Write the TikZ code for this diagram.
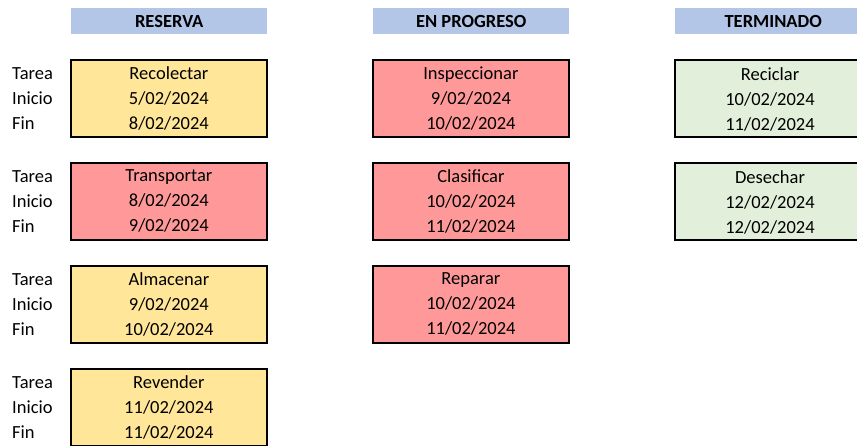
\documentclass[tikz,border=0pt]{standalone}
\usepackage{fontspec}
\setmainfont{Carlito}
\usetikzlibrary{positioning}

\definecolor{azulcab}{HTML}{B4C6E7}
\definecolor{amarillo}{HTML}{FFE699}
\definecolor{rojo}{HTML}{FF9999}
\definecolor{verde}{HTML}{E2EFDA}
\newcommand{\letrakanban}{\fontsize{18.5}{25}\selectfont}

\tikzset{
  encabezado/.style={fill=azulcab, minimum width=196pt, minimum height=26pt,
    inner sep=0pt, anchor=north west, font=\letrakanban\bfseries},
  tarjeta/.style={draw=black, line width=1.8pt, minimum width=196pt,
    minimum height=77pt, inner sep=0pt, anchor=north west, align=center,
    font=\letrakanban},
  etiquetas/.style={inner sep=0pt, anchor=west, align=left, font=\letrakanban},
}

\begin{document}
\begin{tikzpicture}[x=1pt, y=-1pt]
    \useasboundingbox (0,0) rectangle (857,445);
    \clip (0,0) rectangle (857,445);

    % Encabezados de columna
    \node[encabezado] (cabReserva) at (71,8) {RESERVA};
    \node[encabezado] (cabProgreso) at (373,8) {EN PROGRESO};
    \node[encabezado] (cabTerminado) at (675,8) {TERMINADO};

    % Etiquetas de fila
    \node[etiquetas] (etq1) at (12,98.5) {Tarea\\Inicio\\Fin};
    \node[etiquetas] (etq2) at (12,201.5) {Tarea\\Inicio\\Fin};
    \node[etiquetas] (etq3) at (12,304.5) {Tarea\\Inicio\\Fin};
    \node[etiquetas] (etq4) at (12,407.5) {Tarea\\Inicio\\Fin};

    % Reserva - Amarillo
    \node[tarjeta, fill=amarillo] (recolectar) at (70,59) {Recolectar\\5/02/2024\\8/02/2024};
    \node[tarjeta, fill=rojo] (transportar) at (70,162) {Transportar\\8/02/2024\\9/02/2024};
    \node[tarjeta, fill=amarillo] (almacenar) at (70,265) {Almacenar\\9/02/2024\\10/02/2024};
    \node[tarjeta, fill=amarillo] (revender) at (70,368) {Revender\\11/02/2024\\11/02/2024};

    % En progreso - Rojo
    \node[tarjeta, fill=rojo] (inspeccionar) at (372,59) {Inspeccionar\\9/02/2024\\10/02/2024};
    \node[tarjeta, fill=rojo] (clasificar) at (372,162) {Clasificar\\10/02/2024\\11/02/2024};
    \node[tarjeta, fill=rojo] (reparar) at (372,265) {Reparar\\10/02/2024\\11/02/2024};

    % Terminado - Verde (cortado por el borde derecho)
    \node[tarjeta, fill=verde, minimum width=220pt] (reciclar) at (674,59) {};
    \node[tarjeta, fill=verde, minimum width=220pt] (desechar) at (674,162) {};
    \node[align=center, font=\letrakanban, inner sep=0pt] (txtReciclar) at (770,99) {Reciclar\\10/02/2024\\11/02/2024};
    \node[align=center, font=\letrakanban, inner sep=0pt] (txtDesechar) at (770,202) {Desechar\\12/02/2024\\12/02/2024};
  \end{tikzpicture}
\end{document}
